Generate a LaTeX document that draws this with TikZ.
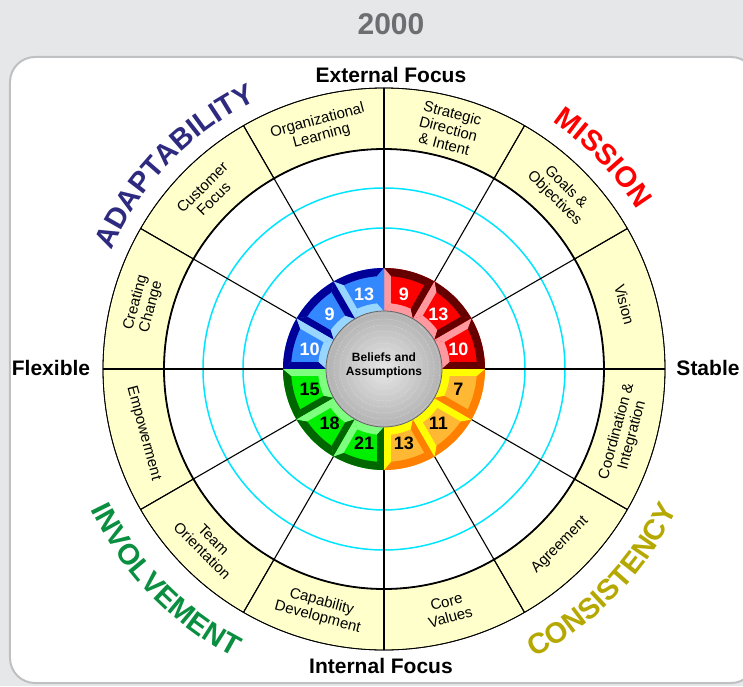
\documentclass[tikz,border=0pt]{standalone}
\usepackage{fontspec}
\setmainfont{Liberation Sans}
\usetikzlibrary{decorations.text}

\definecolor{bgc}{HTML}{E6E7E9}
\definecolor{framec}{HTML}{BFC0C2}
\definecolor{yeartext}{HTML}{6D6E71}
\definecolor{bandfill}{HTML}{FFFFCC}
\definecolor{gridcyan}{HTML}{00E5FF}
\definecolor{adaptc}{HTML}{2E2A80}
\definecolor{missionc}{HTML}{FF0000}
\definecolor{involvec}{HTML}{0A8E3F}
\definecolor{consistc}{HTML}{B5A800}
\definecolor{redbase}{HTML}{FF0000}
\definecolor{reddark}{HTML}{660000}
\definecolor{redlight}{HTML}{FF99A0}
\definecolor{bluebase}{HTML}{3388FF}
\definecolor{bluedark}{HTML}{000099}
\definecolor{bluelight}{HTML}{99D6FF}
\definecolor{greenbase}{HTML}{00EE00}
\definecolor{greendark}{HTML}{006600}
\definecolor{greenlight}{HTML}{7FFF7F}
\definecolor{orbase}{HTML}{FFB833}
\definecolor{ordark}{HTML}{FF8000}
\definecolor{orlight}{HTML}{FFFF00}

\pgfdeclareradialshading{coreshade}{\pgfpoint{0bp}{0bp}}{color(0bp)=(white!90!black); color(15bp)=(white!78!black); color(35bp)=(white!62!black); color(50bp)=(white!50!black)}

\newcommand\tfont{\fontsize{29}{29}\selectfont\bfseries}
\newcommand\ringtile[7]{%
 \fill[#3] (#1:58) arc[start angle=#1,end angle=#2,radius=58] -- (#2:101) arc[start angle=#2,end angle=#1,radius=101] -- cycle;
 \fill[#5] (#1:58) arc[start angle=#1,end angle=#2,radius=58] -- ({#2-6.0}:66) arc[start angle={#2-6.0},end angle={#1+6.0},radius=66] -- cycle;
 \fill[#4] (#1:101) arc[start angle=#1,end angle=#2,radius=101] -- ({#2-4.3}:93) arc[start angle={#2-4.3},end angle={#1+4.3},radius=93] -- cycle;
 \fill[#6] (#1:58) -- (#1:101) -- ({#1+4.3}:93) -- ({#1+6.0}:66) -- cycle;
 \fill[#7] (#2:58) -- (#2:101) -- ({#2-4.3}:93) -- ({#2-6.0}:66) -- cycle;
}

\tikzset{
  bandlabel/.style={align=center, inner sep=0pt, font=\fontsize{15}{16}\selectfont},
  axislabel/.style={inner sep=0pt, font=\fontsize{21}{21}\selectfont\bfseries},
  numw/.style={inner sep=0pt, text=white, font=\fontsize{18}{18}\selectfont\bfseries},
  numb/.style={inner sep=0pt, text=black, font=\fontsize{18}{18}\selectfont\bfseries},
  spoke/.style={black, line width=1.1pt},
  axis/.style={black, line width=1.4pt},
  cyanring/.style={gridcyan, line width=1.5pt},
}

\begin{document}
\begin{tikzpicture}[x=1pt,y=1pt]
\useasboundingbox (-384,-317) rectangle (359,369);
\fill[bgc] (-384,-317) rectangle (359,369);
\draw[framec, line width=2pt, fill=white, rounded corners=25pt] (-374,-314) rectangle (372,312);

\node[text=yeartext, font=\fontsize{30}{30}\selectfont\bfseries, inner sep=0pt] (year) at (7,345) {2000};

% outer band
\foreach \a in {0,30,...,330}{
  \draw[black, line width=0.8pt, fill=bandfill] (\a:220) arc[start angle=\a, end angle=\a+30, radius=220] -- ({\a+30}:281) arc[start angle=\a+30, end angle=\a, radius=281] -- cycle;
}
% cyan rings
\draw[cyanring] (0,0) circle (141);
\draw[cyanring] (0,0) circle (181);
% spokes
\foreach \a in {30,60,120,150,210,240,300,330}{
  \draw[spoke] (\a:100) -- (\a:281);
}
\foreach \a in {0,90,180,270}{
  \draw[axis] (\a:100) -- (\a:281);
}
\draw[black, line width=1.8pt] (0,0) circle (220);
\draw[black, line width=0.8pt] (0,0) circle (281);

% coloured ring
\ringtile{60}{90}{redbase}{reddark}{redlight}{reddark}{redlight}
\ringtile{30}{60}{redbase}{reddark}{redlight}{reddark}{redlight}
\ringtile{0}{30}{redbase}{reddark}{redlight}{reddark}{redlight}
\ringtile{90}{120}{bluebase}{bluedark}{bluelight}{bluebase}{bluelight}
\ringtile{120}{150}{bluebase}{bluedark}{bluelight}{bluedark}{bluedark}
\ringtile{150}{180}{bluebase}{bluedark}{bluelight}{bluelight}{bluedark}
\ringtile{180}{210}{greenbase}{greendark}{greenlight}{greenlight}{greendark}
\ringtile{210}{240}{greenbase}{greendark}{greenlight}{greenlight}{greendark}
\ringtile{240}{270}{greenbase}{greendark}{greenlight}{greenlight}{greendark}
\ringtile{270}{300}{orbase}{ordark}{orlight}{orlight}{ordark}
\ringtile{300}{330}{orbase}{ordark}{orlight}{orlight}{orlight}
\ringtile{330}{360}{orbase}{ordark}{orlight}{ordark}{orlight}

% core
\shade[shading=coreshade] (0,0) circle (58);
\foreach \r in {8,14,...,56}{
  \draw[white!92!black, densely dotted, line width=0.5pt, opacity=0.7] (0,0) circle (\r);
}
\draw[white!40!black, line width=0.8pt] (0,0) circle (58);
\node[align=center, inner sep=0pt, font=\fontsize{12}{14}\selectfont\bfseries] (core) at (0,4) {Beliefs and\\Assumptions};

% numbers
\node[numw] (r1) at (75:77) {9};
\node[numw] (r2) at (45:77) {13};
\node[numw] (r3) at (15:77) {10};
\node[numw] (b1) at (105:77) {13};
\node[numw] (b2) at (135:77) {9};
\node[numw] (b3) at (165:77) {10};
\node[numb] (g1) at (195:77) {15};
\node[numb] (g2) at (225:77) {18};
\node[numb] (g3) at (255:77) {21};
\node[numb] (y1) at (285:77) {13};
\node[numb] (y2) at (315:77) {11};
\node[numb] (y3) at (345:77) {7};

% band labels
\node[bandlabel, rotate=15] (l105) at (105:249) {Organizational\\Learning};
\node[bandlabel, rotate=-15] (l75) at (75:249) {Strategic\\Direction\\\& Intent};
\node[bandlabel, rotate=-45] (l45) at (45:249) {Goals \&\\Objectives};
\node[bandlabel, rotate=-75] (l15) at (15:249) {Vision};
\node[bandlabel, rotate=75] (l345) at (-15:249) {Coordination \&\\Integration};
\node[bandlabel, rotate=45] (l315) at (-45:249) {Agreement};
\node[bandlabel, rotate=15] (l285) at (-75:249) {Core\\Values};
\node[bandlabel, rotate=-15] (l255) at (-105:249) {Capability\\Development};
\node[bandlabel, rotate=-45] (l225) at (-135:249) {Team\\Orientation};
\node[bandlabel, rotate=-75] (l195) at (-165:249) {Empowerment};
\node[bandlabel, rotate=75] (l165) at (165:249) {Creating\\Change};
\node[bandlabel, rotate=45] (l135) at (135:249) {Customer\\Focus};

% axis labels
\node[axislabel] (ext) at (7,294) {External Focus};
\node[axislabel] (int) at (-3,-297) {Internal Focus};
\node[axislabel] (flex) at (-333,1) {Flexible};
\node[axislabel] (stab) at (324,1) {Stable};

% quadrant titles
\path[decorate, decoration={text along path, text align=center, text={|\tfont\color{adaptc}|ADAPTABILITY}}]
  (176:297) arc[start angle=176, end angle=96, radius=297];
\path[decorate, decoration={text along path, text align=center, text={|\tfont\color{missionc}|MISSION}}]
  (84:299) arc[start angle=84, end angle=4, radius=299];
\path[decorate, decoration={text along path, text align=center, text={|\tfont\color{involvec}|INVOLVEMENT}}]
  (184:325) arc[start angle=184, end angle=264, radius=325];
\path[decorate, decoration={text along path, text align=center, text={|\tfont\color{consistc}|CONSISTENCY}}]
  (-84:325) arc[start angle=-84, end angle=-4, radius=325];
\end{tikzpicture}
\end{document}
